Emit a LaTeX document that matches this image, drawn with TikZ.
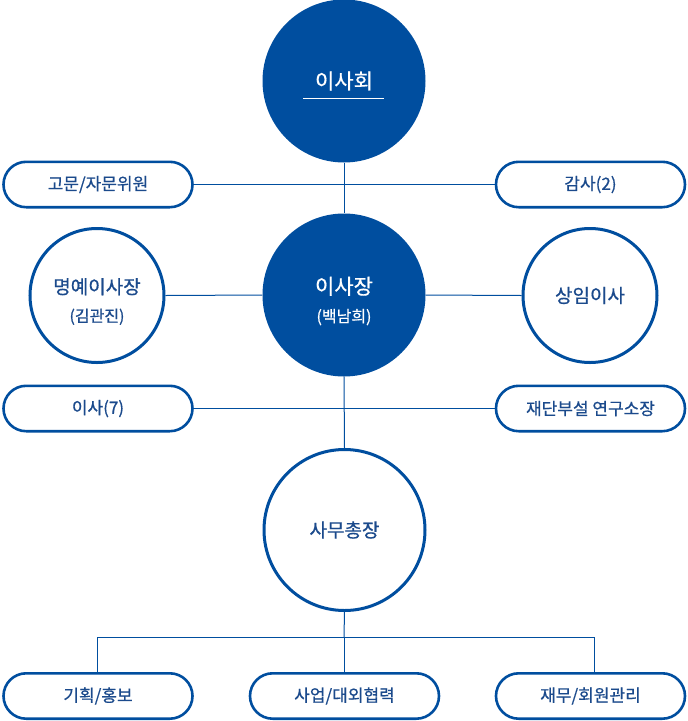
\documentclass[tikz,border=0pt]{standalone}
\usepackage{fontspec}
\setmainfont{Noto Sans CJK KR}[FakeBold=0.6]
\definecolor{navy}{HTML}{004E9F}
\definecolor{txt}{HTML}{1B4A8C}
\begin{document}
\begin{tikzpicture}[x=1pt,y=-1pt,
  pill/.style={draw=navy, line width=2.6pt, rounded corners=22.7pt, minimum width=189pt,
    minimum height=45.4pt, inner sep=0pt, text=txt, fill=white, font=\fontsize{17}{20}\selectfont},
  bigdot/.style={circle, fill=navy, draw=none, minimum size=163pt, inner sep=0pt, text=white, align=center},
  ring/.style={circle, fill=white, draw=navy, line width=3pt, minimum size=134pt, inner sep=0pt, text=txt, align=center},
  bigring/.style={ring, minimum size=161pt},
  twoline/.style={align=center, inner sep=0pt},
  link/.style={draw=navy, line width=1pt}
]
\useasboundingbox (0,0) rectangle (688,721);
\fill[white] (0,0) rectangle (688,721);

\coordinate (b0) at (344,637);
\coordinate (bl) at (97,637);
\coordinate (br) at (594,637);

% nodes
\node[bigdot, font=\fontsize{21}{24}\selectfont] (board) at (344,81) {이사회};
\node[pill] (adv) at (98,184.5) {고문/자문위원};
\node[pill] (aud) at (590.5,184.5) {감사(2)};
\node[bigdot] (chair) at (344,295) {};
\node[twoline, text=white, font=\fontsize{21}{28}\selectfont] (chairtxt) at ([yshift=-6pt]chair.center) {이사장\\{\fontsize{16}{28}\selectfont (백남희)}};
\node[ring] (hon) at (97,295.5) {};
\node[twoline, text=txt, font=\fontsize{19}{28}\selectfont] (hontxt) at ([yshift=-6pt]hon.center) {명예이사장\\{\fontsize{16}{28}\selectfont (김관진)}};
\node[ring, font=\fontsize{19}{22}\selectfont] (exec) at (590,295.5) {상임이사};
\node[pill] (dir) at (98,408.5) {이사(7)};
\node[pill] (lab) at (590.5,408.5) {재단부설 연구소장};
\node[bigring, font=\fontsize{19}{22}\selectfont] (sec) at (344.5,530) {사무총장};
\node[pill] (plan) at (98,696) {기획/홍보};
\node[pill] (biz) at (344.5,696) {사업/대외협력};
\node[pill] (fin) at (590.5,696) {재무/회원관리};

% underline in top circle
\draw[white, line width=1pt] ([shift={(-41,17)}]board.center) -- ([shift={(40,17)}]board.center);

% connectors
\draw[link] (board.south) -- (chair.north);
\draw[link] (adv.east) -- (aud.west);
\draw[link] (hon.east) -- (chair.west);
\draw[link] (chair.east) -- (exec.west);
\draw[link] (chair.south) -- (sec.north);
\draw[link] (dir.east) -- (lab.west);
\draw[link] (sec.south) -- (b0);
\draw[link] (bl) -- (br);
\draw[link] (bl) -- (plan.north -| bl);
\draw[link] (b0) -- (biz.north -| b0);
\draw[link] (br) -- (fin.north -| br);
\end{tikzpicture}
\end{document}
